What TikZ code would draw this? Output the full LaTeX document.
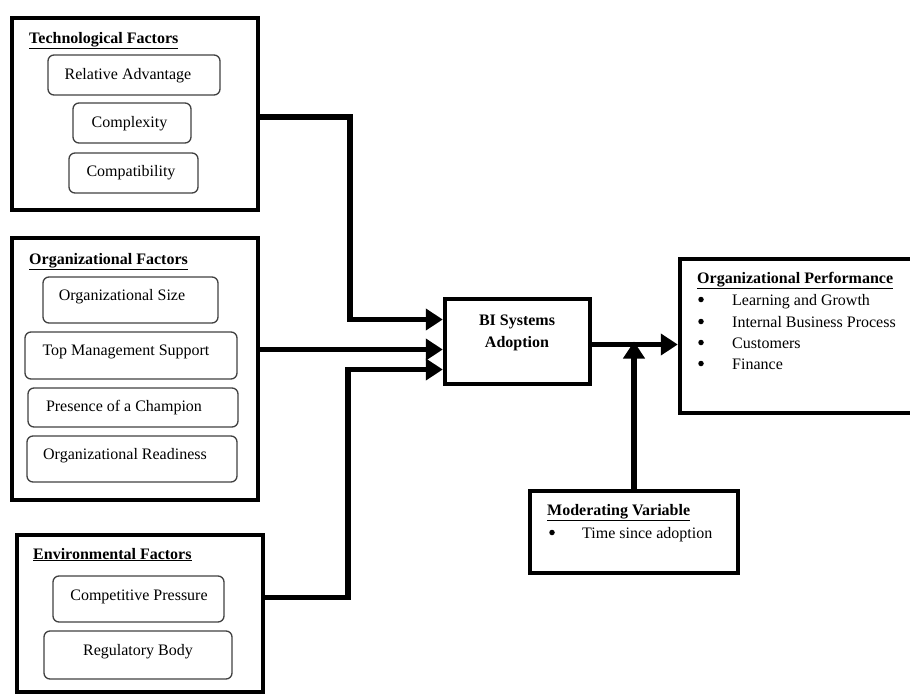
\documentclass[tikz,border=0pt]{standalone}
\usepackage{fontspec}
\setmainfont{Liberation Serif}
\usetikzlibrary{arrows.meta,calc}
\begin{document}
\begin{tikzpicture}[x=1pt,y=-1pt,
 outer/.style={draw, line width=4.5pt, rectangle, inner sep=0pt},
 ibox/.style={draw=black!75, line width=1.3pt, rounded corners=6pt, inner sep=0pt},
 txt/.style={font=\fontsize{16}{19}\selectfont, inner sep=0pt, anchor=base},
 ltxt/.style={font=\fontsize{16}{19}\selectfont, inner sep=0pt, anchor=base west},
 ttl/.style={font=\fontsize{16}{19}\selectfont\bfseries, inner sep=0pt, anchor=base west},
 conn/.style={line width=5.5pt, -{Triangle[length=17pt,width=21pt]}},
 bul/.style={circle, fill=black, inner sep=0pt, minimum size=5.5pt}
]
\clip (0,0) rectangle (910,696);
% outer boxes
\node[outer, minimum width=246, minimum height=192] (tech) at (135,114) {};
\node[outer, minimum width=246, minimum height=262] (org) at (135,369) {};
\node[outer, minimum width=246, minimum height=157] (env) at (140,613.5) {};
\node[outer, minimum width=145, minimum height=85] (bi) at (517.5,341.5) {};
\node[outer, minimum width=250, minimum height=154] (perf) at (805,336) {};
\node[outer, minimum width=208, minimum height=82] (mod) at (634,532) {};
% titles
\node[ttl] (techt) at (29,43) {\underline{Technological Factors}};
\node[ttl] (orgt) at (29,264) {\underline{Organizational Factors}};
\node[ttl] (envt) at (33,559) {\underline{Environmental Factors}};
\node[ttl] (perft) at (697,283) {\underline{Organizational Performance}};
\node[ttl] (modt) at (547,515) {\underline{Moderating Variable}};
% inner boxes
\node[ibox, minimum width=172, minimum height=40] (ra) at (134,75) {};
\node[ibox, minimum width=118, minimum height=40] (cx) at (132,123) {};
\node[ibox, minimum width=129, minimum height=40] (cp) at (133.5,173) {};
\node[ibox, minimum width=175, minimum height=46] (os) at (130.5,300) {};
\node[ibox, minimum width=212, minimum height=47] (tm) at (131,355.5) {};
\node[ibox, minimum width=210, minimum height=39] (pc) at (133,407.5) {};
\node[ibox, minimum width=210, minimum height=46] (ord) at (132,459) {};
\node[ibox, minimum width=171, minimum height=46] (cpr) at (138.5,599) {};
\node[ibox, minimum width=188, minimum height=48] (rb) at (138,655) {};
% inner texts
\node[txt] (rat) at (128,79) {Relative Advantage};
\node[txt] (cxt) at (129.5,127) {Complexity};
\node[txt] (cpt) at (131,176) {Compatibility};
\node[txt] (ost) at (122,300) {Organizational Size};
\node[txt] (tmt) at (126,355) {Top Management Support};
\node[txt] (pct) at (124,411) {Presence of a Champion};
\node[txt] (ordt) at (125,459) {Organizational Readiness};
\node[txt] (cprt) at (139,600) {Competitive Pressure};
\node[txt] (rbt) at (138,655) {Regulatory Body};
% BI text
\node[txt, font=\fontsize{16}{19}\selectfont\bfseries] (bit1) at (517,325) {BI Systems};
\node[txt, font=\fontsize{16}{19}\selectfont\bfseries] (bit2) at (517,347) {Adoption};
% performance list
\node[bul] (pb1) at (701,299.5) {};
\node[bul] (pb2) at (701,321.5) {};
\node[bul] (pb3) at (701,342.5) {};
\node[bul] (pb4) at (701,363.5) {};
\node[ltxt] (pi1) at (732,305) {Learning and Growth};
\node[ltxt] (pi2) at (732,327) {Internal Business Process};
\node[ltxt] (pi3) at (732,348) {Customers};
\node[ltxt] (pi4) at (732,369) {Finance};
% moderating list
\node[bul] (mb1) at (552,532.5) {};
\node[ltxt] (mi1) at (582,538) {Time since adoption};
% connectors
\coordinate (c1) at (350,250);
\coordinate (c2) at (348,500);
\coordinate (bt) at ([yshift=22pt]bi.west);
\coordinate (bo) at ([yshift=-8pt]bi.west);
\coordinate (be) at ([yshift=-28pt]bi.west);
\coordinate (bout) at ([yshift=-3pt]bi.east);
\draw[conn] ([yshift=-3pt]tech.east) -| (c1) |- (bt);
\draw[conn] (org.east |- bo) -- (bo);
\draw[conn] ([yshift=16pt]env.east) -| (c2) |- (be);
\draw[conn] (bout) -- (perf.west |- bout);
\draw[conn] (mod.north) -- ([yshift=3pt]mod.north |- bout);
\end{tikzpicture}
\end{document}
